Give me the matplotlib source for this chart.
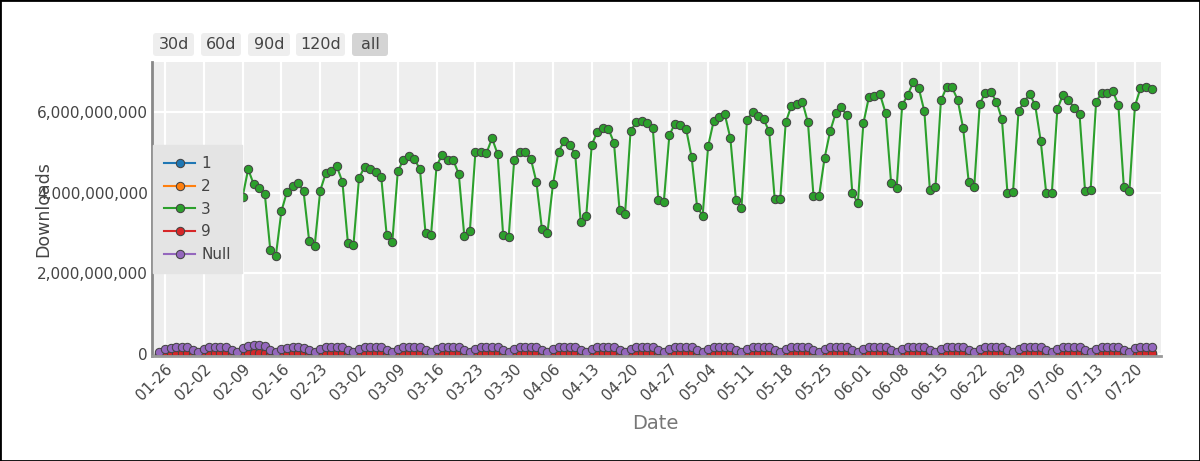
import datetime as dt
import matplotlib
matplotlib.use("Agg")
import matplotlib.pyplot as plt
import matplotlib.dates as mdates
from matplotlib.ticker import MultipleLocator, StrMethodFormatter
from matplotlib.patches import FancyBboxPatch, Rectangle

# daily downloads, one row per week (Sat .. Fri), first day 2025-01-25
start_day = dt.date(2025, 1, 25)

# series "3", in billions
v3_rows = [
    [2.20, 3.20, 3.80, 3.90, 3.95, 3.85, 2.40],
    [2.30, 3.30, 3.95, 4.05, 4.10, 3.95, 2.55],
    [2.49, 3.90, 4.58, 4.21, 4.12, 3.97, 2.57],
    [2.44, 3.54, 4.02, 4.17, 4.24, 4.03, 2.81],
    [2.68, 4.05, 4.48, 4.54, 4.65, 4.27, 2.75],
    [2.71, 4.36, 4.64, 4.59, 4.52, 4.40, 2.94],
    [2.77, 4.53, 4.81, 4.90, 4.83, 4.58, 3.00],
    [2.96, 4.67, 4.93, 4.81, 4.81, 4.46, 2.92],
    [3.05, 5.00, 5.00, 4.98, 5.35, 4.96, 2.96],
    [2.89, 4.81, 5.00, 5.00, 4.84, 4.27, 3.10],
    [3.00, 4.22, 5.02, 5.27, 5.19, 4.96, 3.27],
    [3.43, 5.19, 5.51, 5.60, 5.58, 5.24, 3.58],
    [3.47, 5.53, 5.74, 5.78, 5.72, 5.60, 3.83],
    [3.78, 5.43, 5.71, 5.68, 5.59, 4.89, 3.65],
    [3.43, 5.16, 5.78, 5.88, 5.94, 5.35, 3.83],
    [3.62, 5.79, 6.01, 5.90, 5.82, 5.52, 3.85],
    [3.84, 5.75, 6.15, 6.19, 6.25, 5.74, 3.92],
    [3.91, 4.86, 5.52, 5.97, 6.12, 5.92, 4.00],
    [3.74, 5.72, 6.37, 6.40, 6.44, 5.98, 4.25],
    [4.11, 6.17, 6.42, 6.74, 6.59, 6.02, 4.07],
    [4.13, 6.29, 6.61, 6.61, 6.31, 5.60, 4.27],
    [4.14, 6.20, 6.48, 6.49, 6.26, 5.82, 3.99],
    [4.02, 6.02, 6.25, 6.45, 6.17, 5.28, 3.98],
    [3.98, 6.07, 6.42, 6.30, 6.11, 5.94, 4.04],
    [4.06, 6.26, 6.47, 6.47, 6.52, 6.18, 4.13],
    [4.04, 6.15, 6.59, 6.61, 6.56],
]

# series "Null", in millions
vnull_rows = [
    [40, 120, 160, 168, 168, 162, 92],
    [45, 128, 172, 180, 182, 175, 98],
    [52, 140, 205, 220, 215, 190, 102],
    [44, 118, 160, 166, 165, 158, 90],
    [44, 122, 166, 170, 172, 165, 94],
    [45, 124, 168, 172, 172, 166, 95],
    [46, 126, 170, 174, 173, 168, 96],
    [46, 125, 170, 173, 172, 166, 95],
    [47, 128, 172, 176, 175, 168, 97],
    [46, 127, 171, 174, 173, 164, 96],
    [47, 126, 170, 175, 174, 168, 98],
    [48, 130, 173, 177, 176, 170, 99],
    [48, 131, 174, 178, 176, 171, 100],
    [49, 130, 172, 176, 175, 165, 98],
    [48, 128, 172, 177, 178, 170, 99],
    [49, 132, 175, 178, 177, 172, 100],
    [49, 133, 176, 180, 180, 173, 101],
    [50, 122, 165, 178, 180, 174, 102],
    [49, 133, 178, 181, 181, 175, 103],
    [50, 134, 178, 184, 182, 176, 103],
    [51, 135, 180, 182, 180, 170, 104],
    [50, 134, 178, 181, 180, 174, 102],
    [50, 133, 177, 180, 178, 166, 102],
    [50, 134, 179, 180, 178, 175, 103],
    [51, 135, 180, 181, 182, 176, 104],
    [51, 136, 182, 183, 182],
]

# series "9", in millions
v9_rows = [
    [6, 12, 19, 20, 20, 19, 10],
    [6, 12, 20, 21, 21, 20, 10],
    [7, 13, 22, 23, 22, 21, 11],
    [6, 12, 20, 20, 21, 20, 10],
    [6, 12, 20, 21, 21, 20, 10],
    [6, 13, 21, 21, 21, 20, 10],
    [6, 13, 21, 22, 21, 20, 11],
    [6, 13, 21, 21, 21, 20, 10],
    [7, 13, 21, 22, 22, 21, 11],
    [6, 13, 21, 21, 21, 20, 11],
    [7, 13, 21, 22, 22, 21, 11],
    [7, 14, 22, 22, 22, 21, 11],
    [7, 14, 22, 23, 22, 22, 12],
    [7, 14, 22, 22, 22, 21, 11],
    [7, 13, 22, 23, 23, 22, 12],
    [7, 14, 23, 23, 23, 22, 12],
    [7, 14, 23, 23, 23, 22, 12],
    [7, 13, 22, 23, 23, 22, 12],
    [7, 14, 23, 24, 24, 23, 12],
    [7, 14, 24, 24, 24, 23, 12],
    [7, 14, 24, 24, 24, 22, 12],
    [7, 14, 23, 24, 24, 23, 12],
    [7, 14, 23, 24, 23, 22, 12],
    [7, 14, 24, 24, 23, 23, 12],
    [7, 14, 24, 24, 24, 23, 12],
    [7, 15, 24, 24, 24],
]

# series "2", in millions
v2_rows = [
    [1.5, 2.5, 3.5, 3.6, 3.6, 3.4, 2.0],
    [1.5, 2.6, 3.6, 3.7, 3.7, 3.5, 2.0],
    [1.6, 2.7, 3.9, 4.0, 3.9, 3.7, 2.1],
    [1.5, 2.5, 3.5, 3.6, 3.6, 3.4, 2.0],
    [1.5, 2.5, 3.5, 3.6, 3.6, 3.4, 2.0],
    [1.4, 2.5, 3.4, 3.5, 3.5, 3.3, 1.9],
    [1.4, 2.5, 3.4, 3.5, 3.4, 3.3, 1.9],
    [1.4, 2.4, 3.3, 3.4, 3.4, 3.2, 1.9],
    [1.4, 2.4, 3.3, 3.4, 3.4, 3.2, 1.9],
    [1.3, 2.4, 3.3, 3.3, 3.3, 3.1, 1.8],
    [1.3, 2.3, 3.2, 3.3, 3.3, 3.1, 1.8],
    [1.3, 2.3, 3.2, 3.3, 3.2, 3.1, 1.8],
    [1.3, 2.3, 3.2, 3.2, 3.2, 3.0, 1.8],
    [1.3, 2.3, 3.1, 3.2, 3.2, 3.0, 1.7],
    [1.2, 2.2, 3.1, 3.2, 3.1, 3.0, 1.7],
    [1.2, 2.2, 3.1, 3.1, 3.1, 2.9, 1.7],
    [1.2, 2.2, 3.0, 3.1, 3.1, 2.9, 1.7],
    [1.2, 2.1, 2.9, 3.0, 3.0, 2.9, 1.7],
    [1.2, 2.1, 3.0, 3.0, 3.0, 2.9, 1.6],
    [1.1, 2.1, 2.9, 3.0, 3.0, 2.8, 1.6],
    [1.1, 2.1, 2.9, 2.9, 2.9, 2.8, 1.6],
    [1.1, 2.0, 2.9, 2.9, 2.9, 2.7, 1.6],
    [1.1, 2.0, 2.8, 2.9, 2.8, 2.7, 1.6],
    [1.1, 2.0, 2.8, 2.8, 2.8, 2.7, 1.5],
    [1.1, 2.0, 2.8, 2.8, 2.8, 2.7, 1.5],
    [1.0, 1.9, 2.7, 2.8, 2.8],
]

# series "1", in millions
v1_rows = [
    [0.3, 0.5, 0.8, 0.8, 0.8, 0.7, 0.4],
    [0.3, 0.5, 0.8, 0.8, 0.8, 0.7, 0.4],
    [0.3, 0.6, 0.9, 0.9, 0.9, 0.8, 0.4],
    [0.3, 0.5, 0.8, 0.8, 0.8, 0.7, 0.4],
    [0.3, 0.5, 0.8, 0.8, 0.8, 0.7, 0.4],
    [0.3, 0.5, 0.8, 0.8, 0.8, 0.7, 0.4],
    [0.3, 0.5, 0.8, 0.8, 0.8, 0.7, 0.4],
    [0.3, 0.5, 0.7, 0.8, 0.8, 0.7, 0.4],
    [0.3, 0.5, 0.7, 0.8, 0.8, 0.7, 0.4],
    [0.3, 0.5, 0.7, 0.8, 0.7, 0.7, 0.4],
    [0.3, 0.5, 0.7, 0.7, 0.7, 0.7, 0.4],
    [0.3, 0.5, 0.7, 0.7, 0.7, 0.7, 0.4],
    [0.3, 0.5, 0.7, 0.7, 0.7, 0.7, 0.4],
    [0.3, 0.5, 0.7, 0.7, 0.7, 0.6, 0.4],
    [0.3, 0.5, 0.7, 0.7, 0.7, 0.6, 0.4],
    [0.3, 0.5, 0.7, 0.7, 0.7, 0.6, 0.4],
    [0.3, 0.5, 0.7, 0.7, 0.7, 0.6, 0.4],
    [0.3, 0.4, 0.6, 0.7, 0.7, 0.6, 0.4],
    [0.3, 0.5, 0.7, 0.7, 0.7, 0.6, 0.4],
    [0.3, 0.5, 0.7, 0.7, 0.7, 0.6, 0.4],
    [0.3, 0.5, 0.7, 0.7, 0.7, 0.6, 0.4],
    [0.3, 0.5, 0.6, 0.7, 0.7, 0.6, 0.4],
    [0.3, 0.5, 0.6, 0.7, 0.6, 0.6, 0.4],
    [0.3, 0.5, 0.6, 0.6, 0.6, 0.6, 0.4],
    [0.3, 0.5, 0.6, 0.6, 0.6, 0.6, 0.4],
    [0.3, 0.5, 0.6, 0.6, 0.6],
]

series_names = ["1", "2", "3", "9", "Null"]
series_colors = ["#1f77b4", "#ff7f0e", "#2ca02c", "#d62728", "#9467bd"]
buttons = ["30d", "60d", "90d", "120d", "all"]


def flatten(rows, scale):
    return [v * scale for row in rows for v in row]


series_values = [
    flatten(v1_rows, 1e6),
    flatten(v2_rows, 1e6),
    flatten(v3_rows, 1e9),
    flatten(v9_rows, 1e6),
    flatten(vnull_rows, 1e6),
]
dates = [start_day + dt.timedelta(days=i) for i in range(len(series_values[2]))]

# ********
# PLOTTING
# ********

W, H = 1200, 461
fig = plt.figure(figsize=(W / 100, H / 100), dpi=100)
ax = fig.add_axes([152 / W, 1 - 356 / H, (1161 - 152) / W, (356 - 62) / H])
ax.set_facecolor("#eeeeee")

for name, color, vals in zip(series_names, series_colors, series_values):
    ax.plot(dates, vals, "-o", color=color, lw=1.5, ms=6,
            mec="#444444", mew=0.75, label=name)

tick0 = dt.date(2025, 1, 26)
ax.set_xlim(mdates.date2num(tick0) - 2.35, mdates.date2num(tick0) + 179.7)
ax.set_ylim(-0.05e9, 7.24e9)

ax.xaxis.set_major_locator(mdates.WeekdayLocator(byweekday=mdates.SU))
ax.xaxis.set_major_formatter(mdates.DateFormatter("%m-%d"))
ax.yaxis.set_major_locator(MultipleLocator(2e9))
ax.yaxis.set_major_formatter(StrMethodFormatter("{x:,.0f}"))

ax.grid(color="white", linewidth=1.6)
ax.set_axisbelow(True)
ax.tick_params(length=0, labelsize=11, labelcolor="#444444")
ax.tick_params(axis="y", pad=3)
ax.tick_params(axis="x", pad=4)
for lbl in ax.get_xticklabels():
    lbl.set_rotation(45)
    lbl.set_ha("right")
    lbl.set_rotation_mode("anchor")

for side in ["top", "right"]:
    ax.spines[side].set_visible(False)
ax.spines["left"].set_color("#888888")
ax.spines["left"].set_linewidth(2)
ax.spines["bottom"].set_color("#999999")
ax.spines["bottom"].set_linewidth(2)

ax.set_xlabel("Date", fontsize=14, color="#777777", va="center")
ax.xaxis.set_label_coords((655 - 152) / 1009, (356 - 423) / 294)
ax.set_ylabel("Downloads", fontsize=12.5, color="#444444", va="center")
ax.yaxis.set_label_coords((43 - 152) / 1009, 0.5)

leg = ax.legend(loc="upper left", bbox_to_anchor=(0.001, 0.718), borderaxespad=0,
                fontsize=11, handlelength=2.0, labelspacing=0.5,
                handletextpad=0.4, borderpad=0.75, fancybox=False,
                facecolor="#e4e4e4", edgecolor="#e4e4e4", framealpha=1)
for t in leg.get_texts():
    t.set_color("#444444")

# range buttons above the plot
btn_left = [153, 201, 248, 296, 352]
btn_right = [194, 241, 290, 345, 388]
for label, x0, x1 in zip(buttons, btn_left, btn_right):
    fc = "#d4d4d4" if label == "all" else "#eeeeee"
    box = FancyBboxPatch((x0 / 100, (H - 56) / 100), (x1 - x0) / 100, 23 / 100,
                         boxstyle="round,pad=0,rounding_size=0.03",
                         transform=fig.dpi_scale_trans, fc=fc, ec="none")
    fig.add_artist(box)
    fig.text((x0 + x1) / 2 / W, 1 - 44.5 / H, label, ha="center", va="center",
             fontsize=11.5, color="#444444")

fig.add_artist(Rectangle((0, 0), 1, 1, transform=fig.transFigure,
                         fill=False, ec="black", lw=2))

fig.savefig("out.png", dpi=100)
